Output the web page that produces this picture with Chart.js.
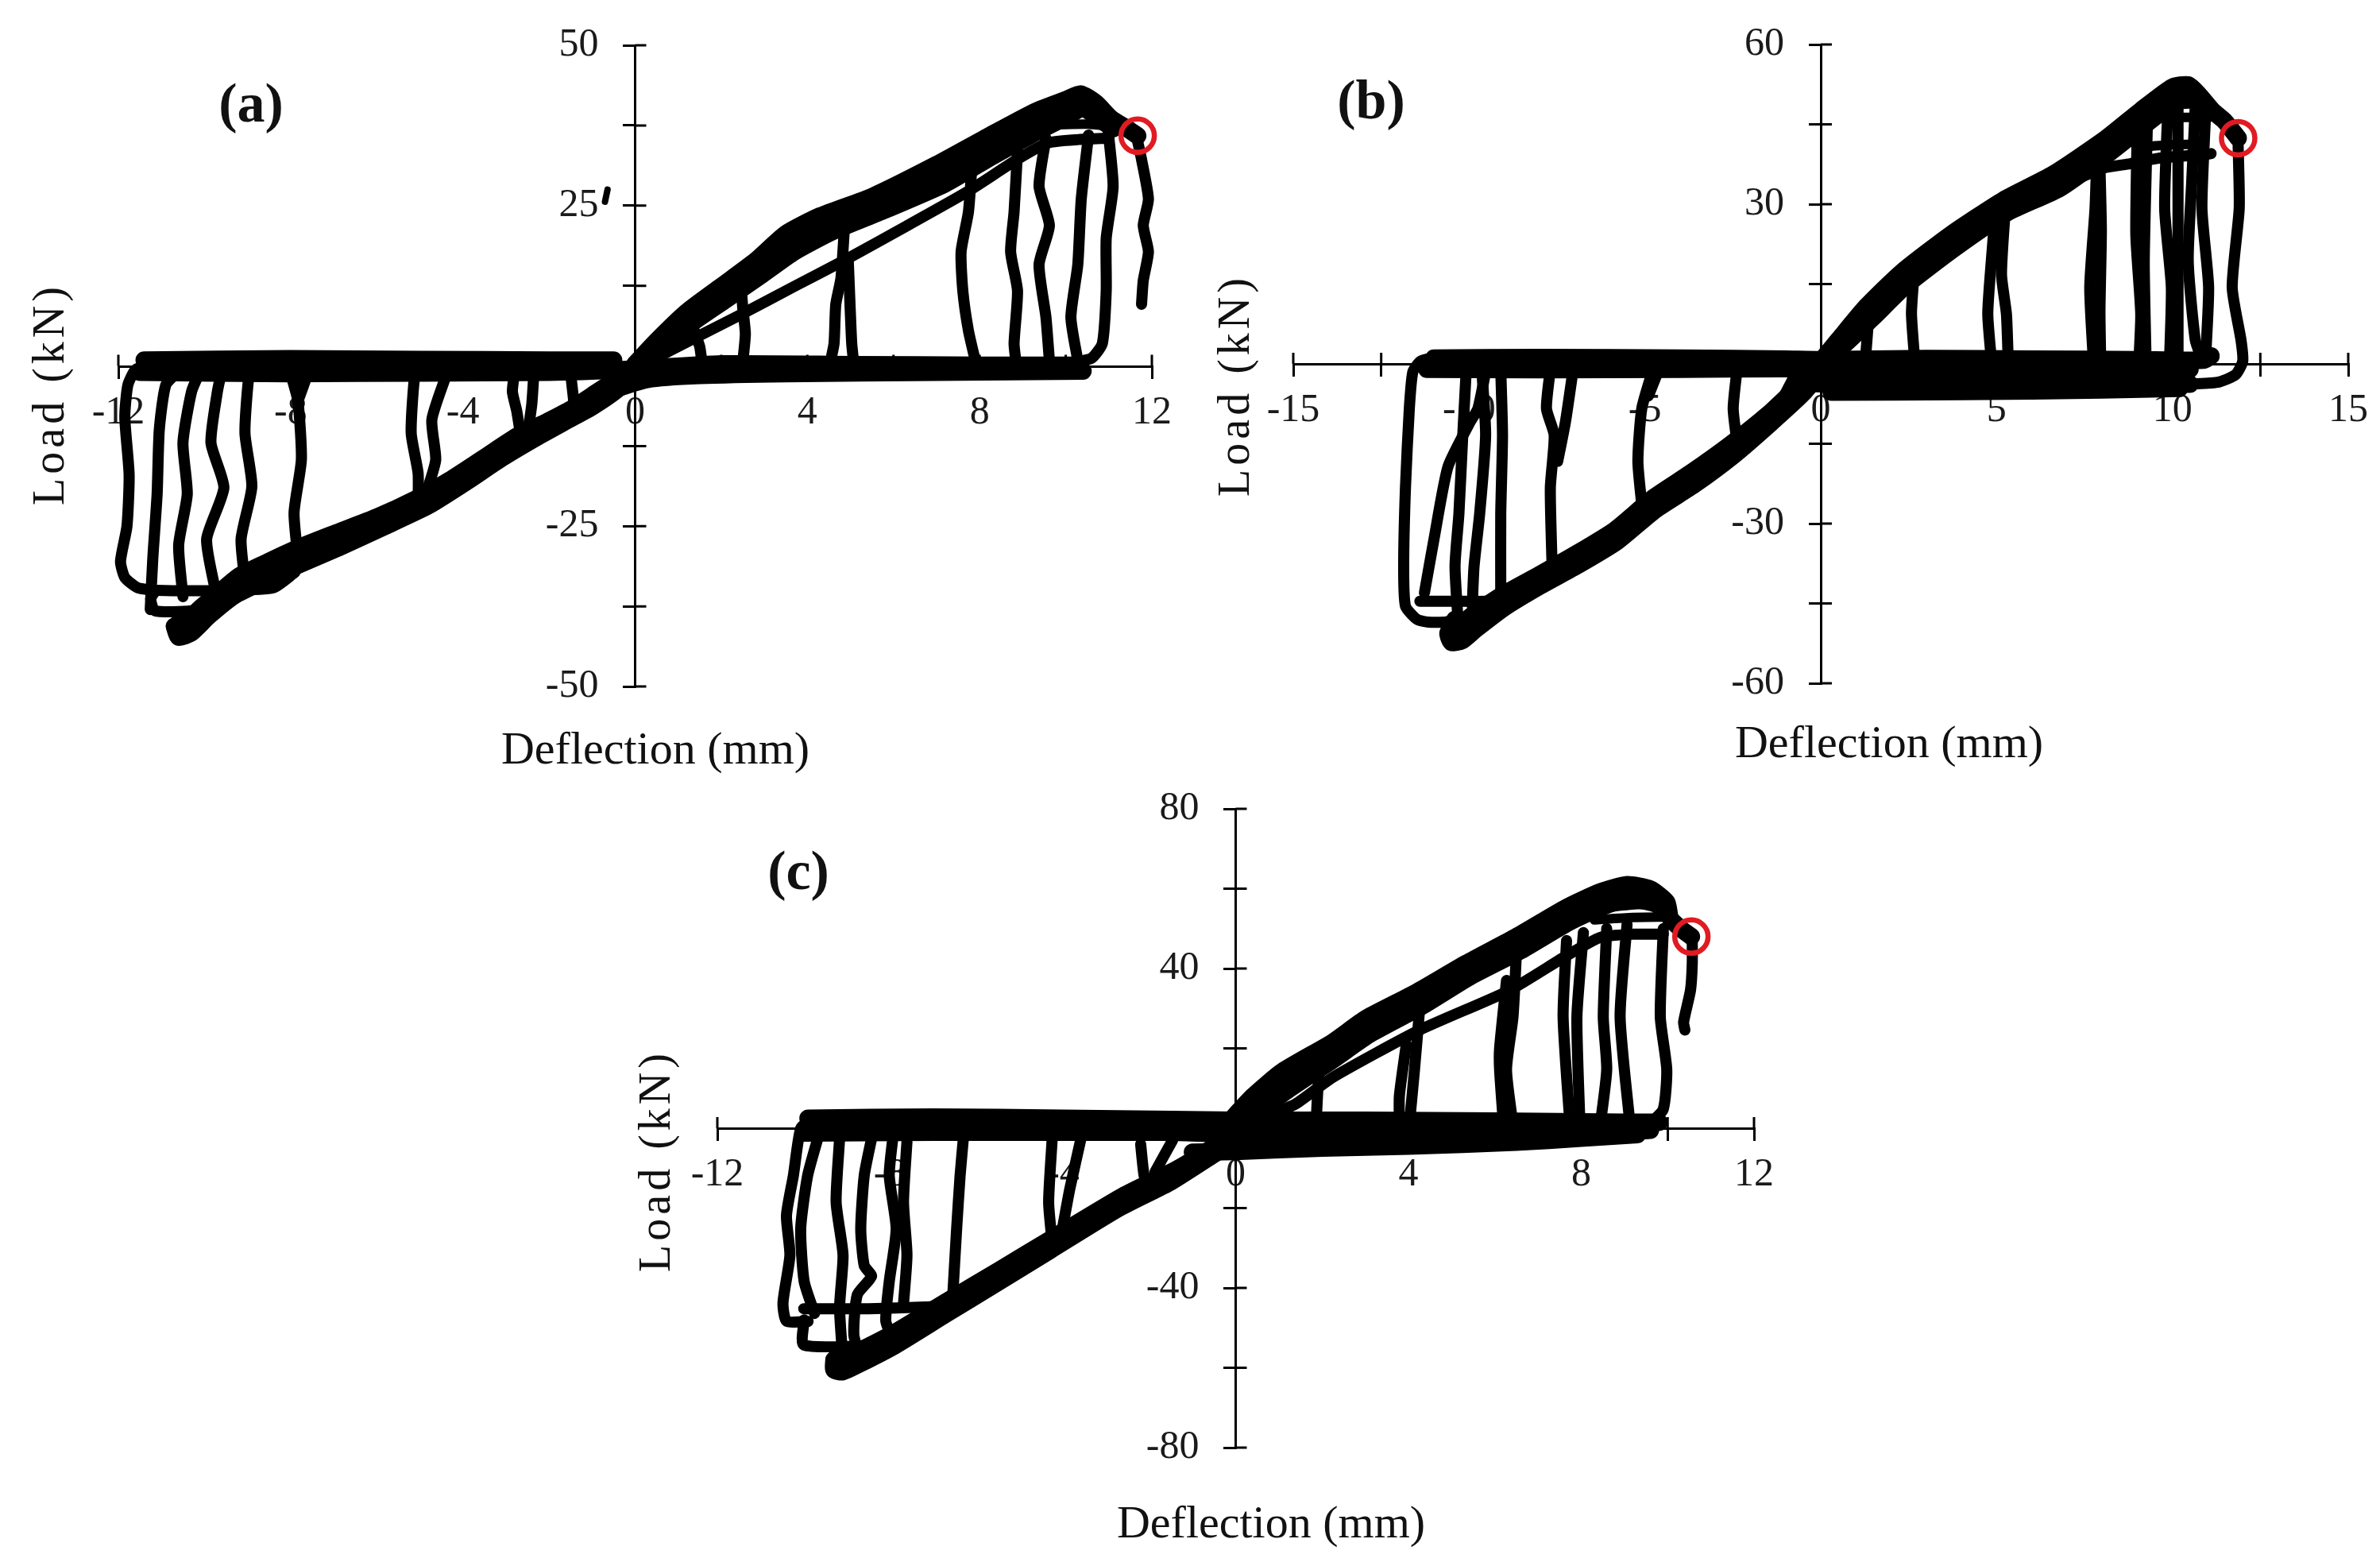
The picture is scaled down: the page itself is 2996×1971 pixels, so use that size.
<!DOCTYPE html>
<html>
<head>
<meta charset="utf-8">
<script src="https://cdn.jsdelivr.net/npm/chart.js@4.4.1/dist/chart.umd.min.js"></script>
<style>
  html, body { margin: 0; padding: 0; background: #fff; }
  #page { position: relative; width: 2996px; height: 1971px; overflow: hidden; background: #fff; }
  canvas { position: absolute; }
</style>
</head>
<body>
<div id="page">
  <canvas id="chartA" width="1490" height="1003" style="left:0px;top:-23px"></canvas>
  <canvas id="chartB" width="1496" height="1004" style="left:1500px;top:-24px"></canvas>
  <canvas id="chartC" width="1600" height="1033" style="left:700px;top:938px"></canvas>
</div>
<script>
// ---------- panel (a) ----------
const aXLabels = [-12, -8, -4, 0, 4, 8, 12];
const aYLabels = [-50, -25, 25, 50];
const aPeak = [11.67, 35.9];
const aEnvUp = [[0,0.3],[0.5,3.9],[1.2,8.4],[2,12.4],[2.8,16.4],[3.5,20.6],[4.3,23.4],[5.5,26.4],[7,31.4],[8.2,35.8],[9.3,39.7],[10,41.5],[10.35,42.4],[10.7,41],[11.05,38.6],[11.45,36.9],[11.67,35.9]];
const aEnvMid = [[0.1,0.5],[0.55,3.2],[1.25,7.5],[2.05,11.3],[2.85,15.2],[3.6,19.2],[4.45,22.2],[5.65,25.3],[7.1,29.9],[8.25,34.2],[9.3,38],[10,40.2],[10.4,41.3]];
const aEnvLow = [[-0.2,-0.8],[0.6,2.6],[1.3,6.6],[2.1,10.3],[2.9,14],[3.7,17.8],[4.6,21],[5.8,24.3],[7.2,28.4],[8.3,32.7],[9.3,36.4],[10,38.8],[10.4,40.2],[10.8,38.4],[11.1,37]];
const aReload = [[0.3,0.6],[1.4,4.4],[2.4,7.8],[3.7,12.4],[4.9,16.6],[6.3,21.8],[7.7,27.1],[8.9,32.3],[9.6,34.8],[10.3,35.3],[11,35.5]];
const aCap = [[9.1,37.3],[9.8,37.6],[10.5,37.7],[11,37.4]];
const aDrops = [
  [[1.3,9.3],[1.35,6],[1.5,3],[1.55,0.6]],
  [[2.45,13.5],[2.5,9],[2.56,5],[2.5,0.6]],
  [[4.86,21.5],[4.78,13.7],[4.66,9.6],[4.62,3.5],[4.54,0.8]],
  [[4.95,16.4],[4.99,9.6],[5.03,3.5],[5.07,0.8]],
  [[7.82,31],[7.74,24],[7.57,17.8],[7.61,11.7],[7.74,5.5],[7.9,0.8]],
  [[8.88,33.5],[8.8,24],[8.72,17.8],[8.88,11.7],[8.8,3.5],[8.84,0.8]],
  [[9.54,35.5],[9.38,28],[9.62,21.9],[9.38,15.8],[9.54,7.6],[9.62,0.8]],
  [[10.53,36],[10.36,26],[10.28,15.8],[10.12,7.6],[10.28,0.8]],
  [[10.98,37],[11.1,28],[10.94,19.9],[10.94,11.7],[10.85,3.5],[10.6,1.2],[10.2,0.6]],
  [[11.67,35],[11.76,32.2],[11.92,26],[11.8,21.9],[11.92,17.8],[11.8,13.3],[11.76,9.6]]
];
const aNegUp = [[0,0],[-0.5,-2.4],[-1,-4.6],[-1.5,-6.8],[-2.1,-8.9],[-2.7,-10.8],[-3.5,-14.3],[-4.3,-17.8],[-5.1,-20.8],[-6,-23.6],[-7,-26.2],[-7.9,-28.6],[-8.6,-30.8],[-9.2,-32.8],[-9.7,-35.6],[-10.1,-37.8],[-10.5,-40.6]];
const aNegLow = [[0.3,1.2],[-0.4,-3.6],[-1,-6.4],[-1.6,-8.6],[-2.3,-11.2],[-3.1,-14.4],[-3.9,-18],[-4.8,-21.8],[-5.8,-25],[-6.9,-28.4],[-7.8,-31],[-8.6,-33.5],[-9.3,-35.8],[-9.9,-39],[-10.3,-41.6],[-10.6,-42.3],[-10.7,-40.6]];
const aLeftLoop = [[-11.2,0.4],[-11.6,-0.6],[-11.78,-3],[-11.85,-8],[-11.75,-17],[-11.8,-25],[-11.95,-30.5],[-11.85,-33],[-11.55,-34.6],[-11.1,-35],[-9.5,-35],[-8.4,-34.6],[-7.9,-32.2]];
const aFoot = [
  [[-9.4,-36.5],[-9.9,-39.2],[-10.25,-41.8],[-10.55,-42.3],[-10.7,-40.5],[-10.55,-38.8],[-10.2,-38.4]],
  [[-9.6,-36.8],[-10.3,-38.2],[-11.15,-38.2],[-11.25,-36.3],[-11.15,-35.2]]
];
const aRises = [
  [[-11.26,-38],[-11.2,-30],[-11.1,-20],[-11.05,-10],[-10.9,-3],[-10.6,-0.8]],
  [[-10.5,-36],[-10.6,-28],[-10.4,-20],[-10.5,-12],[-10.3,-4],[-10.1,-0.8]],
  [[-9.75,-35],[-9.95,-27],[-9.55,-19],[-9.85,-12],[-9.7,-4],[-9.6,-0.8]],
  [[-9.06,-33.6],[-9.15,-27],[-8.9,-18.8],[-9.06,-10.5],[-8.98,-2.2],[-8.9,-0.8]],
  [[-7.83,-30],[-7.92,-22.9],[-7.75,-14.6],[-7.83,-5.5],[-8.0,-1.2]],
  [[-7.83,-5.5],[-7.6,-1.2]],
  [[-5.04,-21.5],[-5.04,-16.7],[-5.2,-10.5],[-5.13,-2.2],[-5.05,-0.8]],
  [[-4.88,-20.4],[-4.8,-18.8],[-4.63,-14.6],[-4.72,-8.4],[-4.39,-1.5]],
  [[-2.65,-11.2],[-2.75,-7],[-2.85,-4],[-2.8,-1]],
  [[-2.5,-10.8],[-2.4,-6],[-2.35,-1]],
  [[-1.4,-7],[-1.45,-4],[-1.5,-1]]
];
const aZeroTop = [[-11.4,0.9],[-8,1.1],[-5,1.0],[-2,0.9],[-0.5,0.9]];
const aZeroMid = [[-11.5,-1],[-8,-1.2],[-5,-1.1],[-2,-1.0],[-0.3,-0.6],[2,0.3],[5,0.2],[8,0.1],[10.3,0.1]];
const aZeroLow = [[-1.5,-7.2],[-0.6,-4],[0.3,-2.1],[1.5,-1.5],[3.5,-1.2],[7,-1.0],[10.4,-0.8]];
const aStray = [[-0.7,25.6],[-0.64,27.5]];

// ---------- panel (b) ----------
const bXLabels = [-15, -10, -5, 0, 5, 10, 15];
const bYLabels = [-60, -30, 30, 60];
const bPeak = [11.87, 42.4];
const bEnvUp = [[0,0.5],[0.5,4.5],[1.3,10.8],[2.3,17.2],[3.7,24.3],[5.2,30.8],[6.6,35.6],[8.1,42.3],[9.1,47.6],[10,52],[10.45,52.4],[10.75,50.6],[11.15,47.5],[11.5,45.5],[11.87,42.4]];
const bEnvMid = [[0,0],[0.6,4.1],[1.4,9.8],[2.35,15.9],[3.75,23],[5.25,29.6],[6.7,34.3],[8.15,41],[9.15,46.2],[10.05,50.6],[10.5,51]];
const bEnvLow = [[-0.2,-0.8],[0.7,3.8],[1.5,8.8],[2.4,14.6],[3.8,21.7],[5.3,28.4],[6.8,33],[8.2,39.6],[9.2,44.8],[10.1,49.2],[10.6,49.5],[11,47]];
const bReload = [[6.5,32.5],[7.2,34.5],[8.04,36.8],[8.8,37.6],[9.58,38.6],[10.84,39.3],[11.1,39.5]];
const bCap = [[9.2,40.8],[10,41.2],[10.9,41.3]];
const bCap2 = [[10.2,46.3],[10.7,46.3]];
const bDrops = [
  [[1.37,9.5],[1.32,5],[1.27,0.8]],
  [[2.63,15],[2.58,9.4],[2.67,0.8]],
  [[4.95,27.5],[4.85,19.3],[4.75,9.4],[4.85,0.8]],
  [[5.24,28.5],[5.14,16.8],[5.28,9.4],[5.33,0.8]],
  [[7.85,39],[7.8,29.2],[7.65,14.4],[7.75,0.8]],
  [[7.94,37],[7.98,25],[7.94,10],[7.96,0.8]],
  [[9.0,44.5],[8.96,24.3],[9.1,9.4],[9.05,0.8]],
  [[9.29,45.5],[9.2,19.3],[9.25,0.8]],
  [[9.87,48],[9.78,29.2],[9.97,14.4],[9.92,0.8]],
  [[10.16,49.5],[10.16,25],[10.16,0.8]],
  [[10.65,48.5],[10.55,34.2],[10.45,19.3],[10.65,4.5],[10.84,0.8]],
  [[10.94,46.5],[10.84,29.2],[11.03,14.4],[10.94,0.5]],
  [[11.87,41],[11.9,29.2],[11.7,14.4],[11.95,4.5],[12.0,0.5],[11.8,-2],[11.32,-3.4],[10.5,-3.8]]
];
const bNegUp = [[0,0],[-0.65,-4.2],[-1.5,-9.5],[-2.6,-15.3],[-3.7,-20.5],[-4.77,-25.2],[-5.85,-31.2],[-6.93,-35.6],[-8.0,-39.6],[-9.1,-43.6],[-9.97,-47.5],[-10.4,-50.5]];
const bNegLow = [[0.3,1],[-0.5,-5.5],[-1.4,-11],[-2.5,-17.3],[-3.6,-22.7],[-4.7,-27.4],[-5.8,-33.4],[-6.9,-37.8],[-8.0,-41.8],[-9.0,-45.8],[-9.8,-49.8],[-10.2,-52],[-10.5,-52.3],[-10.6,-50.6],[-10.4,-48]];
const bLeftBox = [[-10.94,1.3],[-11.38,0.5],[-11.6,-1.5],[-11.7,-8.4],[-11.81,-23.3],[-11.86,-38.1],[-11.81,-45.5],[-11.48,-48],[-11.16,-48.5],[-10.7,-48.5],[-10.5,-48.2]];
const bFoot = [[-11.4,-44.6],[-10.4,-44.6],[-9.5,-44.6],[-8.9,-44.2]];
const bSlant = [[-11.27,-43],[-11,-33],[-10.6,-19.3],[-9.97,-10.9],[-9.75,-8.4],[-9.53,-1.5]];
const bRises = [
  [[-10.29,-50.5],[-10.4,-38.1],[-10.29,-28.2],[-10.18,-13.4],[-10.08,-1]],
  [[-9.91,-45.5],[-9.86,-38.1],[-9.7,-28.2],[-9.53,-13.4],[-9.64,-1]],
  [[-9.1,-43],[-9.1,-28.2],[-9.05,-13.4],[-9.1,-1]],
  [[-7.64,-38],[-7.69,-23.3],[-7.58,-13.4],[-7.8,-8.4],[-7.69,-1]],
  [[-7.48,-18.3],[-7.26,-10.9],[-7.04,-1]],
  [[-5.09,-26.5],[-5.2,-18.3],[-5.09,-8.4],[-4.77,-1]],
  [[-4.9,-6],[-4.6,-1]],
  [[-2.38,-14.8],[-2.49,-8.4],[-2.38,-1]],
  [[-1.08,-6.5],[-0.65,-1]]
];
const bZeroTop = [[-11.0,1.1],[-8,1.2],[-4,1.1],[-1,0.9],[0,0.8],[3,1.0],[6,0.9],[9,0.8],[10.9,0.7],[11.1,1.5]];
const bZeroMid = [[-11.2,-1.0],[-8,-1.1],[-4,-1.0],[-1.2,-0.9],[0,-0.9],[3,-1.0],[7,-1.0],[10.5,-1.0]];
const bZeroLow = [[-0.5,-3.5],[0.5,-3.9],[3,-4.0],[6,-3.9],[9,-3.8],[10.5,-3.8]];
const bZeroLow2 = [[0.3,-5.3],[4,-5.2],[8,-4.9],[10.2,-4.6]];

// ---------- panel (c) ----------
const cXLabels = [-12, -8, -4, 0, 4, 8, 12];
const cYLabels = [-80, -40, 40, 80];
const cPeak = [10.55, 48];
const cEnvUp = [[-0.2,1],[0.4,8],[1.08,14.2],[2.24,21.5],[3.02,27.5],[4.18,34],[5.34,41.3],[6.5,48],[7.66,55.3],[8.44,59.2],[9.06,61],[9.6,59.9],[9.98,56.6],[10.06,52.6],[10.3,50],[10.55,48]];
const cEnvMid = [[-0.25,-0.5],[0.45,6],[1.14,11.8],[2.27,19.5],[3.06,25.5],[4.24,32.2],[5.37,39.5],[6.55,46.2],[7.68,53.4],[8.47,57.3],[9.08,59.2],[9.65,58.1]];
const cEnvLow = [[-0.3,-2],[0.5,4],[1.2,9.5],[2.3,17.5],[3.1,23.5],[4.3,30.5],[5.4,37.8],[6.6,44.5],[7.7,51.5],[8.5,55.5],[9.1,57.5],[9.7,56.3],[10,54]];
const cReload = [[0.6,2.5],[1.39,6.1],[2.24,12.7],[4.26,24.6],[6.35,34.6],[7.66,43.2],[8.44,47.8],[9.2,48.6],[9.9,48.6]];
const cCap = [[8.3,52.2],[9.2,52.8],[9.95,52.9]];
const cCap2 = [[8.6,55.3],[9.3,56],[9.9,56]];
const cDrops = [
  [[1.93,14],[1.9,9.4],[1.86,0.8]],
  [[4.26,30],[4.14,14.7],[4.02,0.8]],
  [[3.95,21],[3.79,8.1],[3.79,0.8]],
  [[6.5,44],[6.42,27.9],[6.27,14.7],[6.42,0.8]],
  [[6.27,37],[6.11,20],[6.11,14.7],[6.2,0.8]],
  [[7.66,47],[7.58,27.9],[7.74,0.8]],
  [[8.05,49],[7.9,27.9],[7.97,0.8]],
  [[8.59,50],[8.51,27.9],[8.59,14.7],[8.44,0.8]],
  [[9.06,51],[8.9,27.9],[9.13,0.8]],
  [[9.9,50],[9.83,27.9],[9.98,14.7],[9.9,4.8],[9.6,1.5],[9.06,0.5]],
  [[10.57,47.8],[10.57,41.2],[10.53,34.6],[10.37,26.6],[10.4,24.6]]
];
const cNegUp = [[0,1],[-0.39,-3.8],[-1.38,-10.4],[-2.61,-17],[-4.25,-27.6],[-5.48,-35.6],[-6.71,-43.5],[-7.94,-51.5],[-8.76,-56.1],[-9.17,-59.4]];
const cNegLow = [[0.3,-1],[-0.5,-6.5],[-1.5,-13.4],[-2.7,-20],[-4.3,-30.6],[-5.5,-38.6],[-6.7,-46.5],[-7.9,-54.5],[-8.7,-59],[-9.1,-61],[-9.3,-60.5],[-9.3,-58]];
const cLeftBox = [[-9.83,2.3],[-10.07,0],[-10.24,-11.9],[-10.4,-21.9],[-10.32,-31.8],[-10.48,-43.7],[-10.4,-48.3],[-9.9,-48.4]];
const cPlateau = [[-10.0,-45.2],[-8.5,-45.2],[-7.2,-44.8],[-6.7,-44.5]];
const cFoot = [[-9.99,-48],[-10,-54.3],[-8.35,-54.3],[-8,-53]];
const cRises = [
  [[-9.75,-46.4],[-9.99,-38.4],[-10.07,-25.2],[-9.91,-11.9],[-9.66,-2]],
  [[-9.09,-58.3],[-9.17,-45],[-9.09,-31.8],[-9.25,-18.5],[-9.17,-2.6]],
  [[-8.68,-58],[-8.84,-51.7],[-8.76,-41.7],[-8.43,-37.1],[-8.6,-34.4],[-8.68,-25.2],[-8.6,-11.9],[-8.43,-2.6]],
  [[-7.94,-53],[-8.1,-48.3],[-8.02,-38.4],[-7.86,-25.2],[-8.02,-11.9],[-7.94,-2.6]],
  [[-7.69,-44],[-7.61,-31.8],[-7.69,-18.5],[-7.61,-3.3]],
  [[-6.55,-42],[-6.46,-25.2],[-6.38,-11.9],[-6.3,-2]],
  [[-4.25,-28.5],[-4.33,-18.5],[-4.25,-3]],
  [[-4.0,-24.5],[-3.84,-15.2],[-3.59,-3]],
  [[-2.03,-14],[-2.12,-11.9],[-2.2,-4]],
  [[-1.87,-11],[-1.46,-3]]
];
const cZeroTop = [[-9.9,2.5],[-7,2.8],[-4,2.5],[-1.5,2.2],[0,2],[3,2],[6,1.8],[9,1.5],[9.8,1.5]];
const cZeroMid = [[-10,-1.2],[-7,-1],[-4,-1],[-1.5,-1],[0,-1.5],[3,-1.5],[6,-1.2],[9,-0.8],[9.6,-0.5]];
const cZeroLow = [[-1,-6],[0,-5.8],[2,-5],[4,-4.5],[6.5,-3.5],[8,-2.5],[9.3,-1.6]];

// ---------- helpers ----------
const BAND = 22, THIN = 14;
const toXY = pts => pts.map(([x, y]) => ({x, y}));

function trace(pts, width) {
  return {
    data: toXY(pts),
    showLine: true,
    borderColor: '#000',
    backgroundColor: '#000',
    borderWidth: width,
    pointRadius: 0,
    pointHoverRadius: 0,
    tension: 0.2,
    clip: false,
    borderJoinStyle: 'round',
    borderCapStyle: 'round'
  };
}

function marker(pt) {
  return {
    data: toXY([pt]),
    showLine: false,
    pointRadius: 21,
    pointBorderWidth: 6.5,
    pointBorderColor: '#e11b22',
    pointBackgroundColor: 'rgba(0,0,0,0)',
    clip: false,
    order: -1
  };
}

function axis(min, max, step, labels, isX) {
  return {
    type: 'linear',
    position: 'center',
    min: min,
    max: max,
    grid: { drawOnChartArea: false, drawTicks: true, tickLength: 14, color: '#000', lineWidth: 3 },
    border: { display: true, color: '#000', width: 3 },
    ticks: {
      stepSize: step,
      autoSkip: false,
      maxRotation: 0,
      padding: isX ? 15 : 32,
      color: '#1a1a1a',
      font: { family: '"Liberation Serif"', size: 50 },
      callback: v => labels.includes(v) ? String(v) : ''
    }
  };
}

// inner half of the crossing tick marks, panel tag and axis titles
const panelDecor = {
  id: 'panelDecor',
  beforeDatasetsDraw(chart) {
    const {ctx, scales: {x, y}} = chart;
    const x0 = x.getPixelForValue(0), y0 = y.getPixelForValue(0);
    ctx.save();
    ctx.strokeStyle = '#000';
    ctx.lineWidth = 3;
    ctx.beginPath();
    x.ticks.forEach(t => {
      const px = x.getPixelForValue(t.value);
      ctx.moveTo(px, y0);
      ctx.lineTo(px, y0 - 14);
    });
    y.ticks.forEach(t => {
      const py = y.getPixelForValue(t.value);
      ctx.moveTo(x0, py);
      ctx.lineTo(x0 + 14, py);
    });
    ctx.stroke();
    ctx.restore();
  },
  afterDraw(chart, args, opts) {
    const ctx = chart.ctx;
    ctx.save();
    ctx.fillStyle = '#111';
    ctx.textAlign = 'center';
    ctx.textBaseline = 'middle';
    ctx.font = 'bold 70px "Liberation Serif"';
    ctx.fillText(opts.tag, opts.tagAt[0], opts.tagAt[1]);
    ctx.font = '58px "Liberation Serif"';
    ctx.fillText('Deflection (mm)', opts.xTitleAt[0], opts.xTitleAt[1]);
    ctx.translate(opts.yTitleAt[0], opts.yTitleAt[1]);
    ctx.rotate(-Math.PI / 2);
    ctx.font = '56px "Liberation Serif"';
    ctx.letterSpacing = '5px';
    ctx.fillText('Load (kN)', 0, 0);
    ctx.restore();
  }
};

function makeChart(id, datasets, padding, scales, decor) {
  return new Chart(document.getElementById(id), {
    type: 'scatter',
    data: { datasets: datasets },
    options: {
      responsive: false,
      animation: false,
      devicePixelRatio: 1,
      layout: { padding: padding },
      plugins: {
        legend: { display: false },
        tooltip: { enabled: false },
        panelDecor: decor
      },
      scales: scales
    },
    plugins: [panelDecor]
  });
}

makeChart('chartA', [
    marker(aPeak),
    trace(aEnvUp, BAND), trace(aEnvMid, BAND), trace(aEnvLow, BAND), trace(aReload, THIN), trace(aCap, THIN - 2),
    ...aDrops.map(d => trace(d, THIN)),
    trace(aNegUp, BAND), trace(aNegLow, BAND), trace(aLeftLoop, THIN),
    ...aFoot.map(d => trace(d, THIN)),
    ...aRises.map(d => trace(d, THIN)),
    trace(aZeroTop, BAND), trace(aZeroMid, BAND), trace(aZeroLow, BAND),
    trace(aStray, 8)
  ],
  { left: 149, right: 34, top: 80, bottom: 116 },
  { x: axis(-12, 12, 2, aXLabels, true), y: axis(-50, 50, 12.5, aYLabels, false) },
  { tag: '(a)', tagAt: [316, 158], yTitleAt: [65, 519], xTitleAt: [825, 969] }
);

makeChart('chartB', [
    marker(bPeak),
    trace(bEnvUp, BAND), trace(bEnvMid, BAND), trace(bEnvLow, BAND), trace(bReload, THIN), trace(bCap, THIN - 2), trace(bCap2, THIN - 2),
    ...bDrops.map(d => trace(d, THIN)),
    trace(bNegUp, BAND), trace(bNegLow, BAND), trace(bLeftBox, THIN), trace(bFoot, THIN), trace(bSlant, THIN),
    ...bRises.map(d => trace(d, THIN)),
    trace(bZeroTop, BAND), trace(bZeroMid, BAND), trace(bZeroLow, BAND), trace(bZeroLow2, BAND)
  ],
  { left: 128, right: 39, top: 80, bottom: 120 },
  { x: axis(-15, 15, 2.5, bXLabels, true), y: axis(-60, 60, 15, bYLabels, false) },
  { tag: '(b)', tagAt: [226, 155], yTitleAt: [57, 509], xTitleAt: [878, 962] }
);

makeChart('chartC', [
    marker(cPeak),
    trace(cEnvUp, BAND), trace(cEnvMid, BAND), trace(cEnvLow, BAND), trace(cReload, THIN), trace(cCap, THIN - 2), trace(cCap2, THIN - 2),
    ...cDrops.map(d => trace(d, THIN)),
    trace(cNegUp, BAND), trace(cNegLow, BAND), trace(cLeftBox, THIN), trace(cPlateau, THIN), trace(cFoot, THIN),
    ...cRises.map(d => trace(d, THIN)),
    trace(cZeroTop, BAND), trace(cZeroMid, BAND), trace(cZeroLow, BAND)
  ],
  { left: 203, right: 92, top: 80, bottom: 149 },
  { x: axis(-12, 12, 2, cXLabels, true), y: axis(-80, 80, 20, cYLabels, false) },
  { tag: '(c)', tagAt: [305, 163], yTitleAt: [128, 523], xTitleAt: [900, 982] }
);
</script>
</body>
</html>
